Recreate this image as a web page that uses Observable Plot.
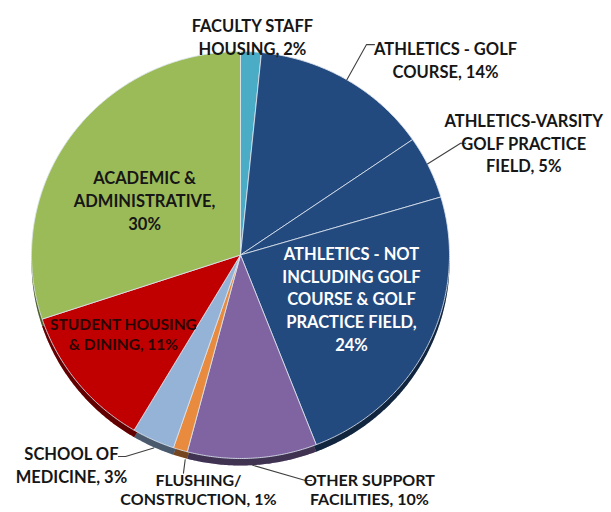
<!DOCTYPE html>
<html>
<head>
<meta charset="utf-8">
<script src="https://cdn.jsdelivr.net/npm/d3@7"></script>
<script src="https://cdn.jsdelivr.net/npm/@observablehq/plot@0.6"></script>
<style>
  html, body { margin: 0; padding: 0; background: #fff; overflow: hidden; }
  #chart svg { display: block; }
</style>
</head>
<body>
<div id="chart"></div>
<script>
// ---- data ----
const categories = [
  "FACULTY STAFF\nHOUSING",
  "ATHLETICS - GOLF\nCOURSE",
  "ATHLETICS-VARSITY\nGOLF PRACTICE\nFIELD",
  "ATHLETICS - NOT\nINCLUDING GOLF\nCOURSE & GOLF\nPRACTICE FIELD",
  "OTHER SUPPORT\nFACILITIES",
  "FLUSHING/\nCONSTRUCTION",
  "SCHOOL OF\nMEDICINE",
  "STUDENT HOUSING\n& DINING",
  "ACADEMIC &\nADMINISTRATIVE"
];
const shares = [1.6, 13.8, 5.0, 23.7, 10.0, 1.1, 3.3, 11.4, 30.1]; // percent of total
const pctOnNewLine = [false, false, false, true, false, false, false, false, true];

// ---- style / layout ----
const sliceColors = ["#4bacc6", "#234a7e", "#234a7e", "#234a7e", "#8064a2", "#e88b3e", "#95b3d7", "#c00000", "#9bbb59"];
const labelInk = ["dark", "dark", "dark", "light", "dark", "dark", "dark", "red", "dark"];
const labelLine = [1.375, 1.375, 1.375, 1.375, 1.22, 1.22, 1.375, 1.33, 1.375];
const labelSize = [16.5, 16.5, 16.5, 16.5, 16, 16, 16.5, 15.5, 16.5];
// label block centres in pie units (x: -1..1 across, y: -1..1 bottom..top)
const labelX = [0.057, 0.981, 1.355, 0.531, 0.617, -0.201, -0.809, -0.560, -0.459];
const labelY = [1.075, 0.963, 0.554, -0.211, -1.150, -1.150, -1.027, -0.385, 0.272];
// leader lines: start on the rim at the slice's mid angle (+nudge), then elbow/end in pie units
const leaders = [
  {i: 1, nudge: 0, r: 1.0, pts: [[0.603, 1.034], [0.641, 1.034]]},
  {i: 2, nudge: -1, r: 1.0, pts: [[1.053, 0.549], [1.077, 0.549]]},
  {i: 6, nudge: -1, r: 1.035, pts: [[-0.550, -0.990], [-0.584, -0.990]]},
  {i: 5, nudge: -2, r: 1.04, pts: [[-0.273, -1.072]]},
  {i: 4, nudge: 0, r: 1.035, pts: [[0.311, -1.108], [0.340, -1.108]]}
];
const depth = 7 / 204; // 3-D side thickness in pie units

// ---- geometry ----
const arcs = d3.pie().sort(null).value(d => d)(shares);
function slicePoly(i, shift) {
  const a0 = arcs[i].startAngle, a1 = arcs[i].endAngle;
  const n = Math.max(3, Math.ceil((a1 - a0) / (Math.PI / 360)));
  const pts = [{name: categories[i], x: 0, y: shift}];
  for (let k = 0; k <= n; k++) {
    const a = a0 + (a1 - a0) * k / n;
    pts.push({name: categories[i], x: Math.sin(a), y: Math.cos(a) + shift});
  }
  pts.push({name: categories[i], x: 0, y: shift});
  return pts;
}
const topFace = categories.flatMap((_, i) => slicePoly(i, 0));
const sideFace = categories.flatMap((_, i) => slicePoly(i, -depth));

const labels = categories.map((c, i) => ({
  text: c + "," + (pctOnNewLine[i] ? "\n" : " ") + Math.round(shares[i]) + "%",
  x: labelX[i], y: labelY[i], ink: labelInk[i], lh: labelLine[i], size: labelSize[i]
}));

const leaderPts = leaders.flatMap((L, j) => {
  const mid = (arcs[L.i].startAngle + arcs[L.i].endAngle) / 2 + L.nudge * Math.PI / 180;
  const start = {id: j, x: L.r * Math.sin(mid), y: L.r * Math.cos(mid)};
  return [start, ...L.pts.map(p => ({id: j, x: p[0], y: p[1]}))];
});

const inks = {dark: "#161616", light: "#ffffff", red: "#2a0505"};
const textMarks = labels.map(d => Plot.text([d], {
  x: "x", y: "y", text: "text",
  fill: inks[d.ink],
  fontFamily: "Lato, 'Open Sans', sans-serif", fontWeight: "bold", fontSize: d.size,
  lineHeight: d.lh, textAnchor: "middle", lineAnchor: "middle"
}));

const chart = Plot.plot({
  width: 611,
  height: 512,
  margin: 0,
  x: {domain: [-1, 1], range: [31, 449], axis: null},
  y: {domain: [-1, 1], range: [458, 51], axis: null},
  color: {domain: categories, range: sliceColors},
  style: {background: "#fff"},
  marks: [
    Plot.line(sideFace, {x: "x", y: "y", z: "name", fill: "name", stroke: "none", curve: "linear"}),
    Plot.line(sideFace, {x: "x", y: "y", z: "name", fill: "#000", fillOpacity: 0.5, stroke: "none", curve: "linear"}),
    Plot.line(topFace, {x: "x", y: "y", z: "name", fill: "name", stroke: "#dde5f0", strokeWidth: 1, strokeOpacity: 0.85, curve: "linear"}),
    Plot.line(leaderPts, {x: "x", y: "y", z: "id", stroke: "#404040", strokeWidth: 1.1, curve: "linear"}),
    ...textMarks
  ]
});
document.getElementById("chart").appendChild(chart);
</script>
</body>
</html>
